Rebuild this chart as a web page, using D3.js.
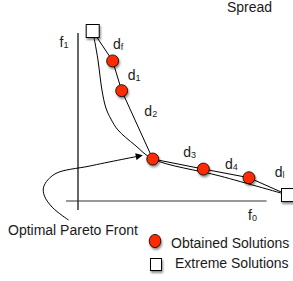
<!DOCTYPE html>
<html>
<head>
<meta charset="utf-8">
<script src="https://cdn.jsdelivr.net/npm/d3@7"></script>
<style>
  body { margin: 0; background: #fff; }
  text { font-family: "Liberation Sans", Arial, sans-serif; fill: #1a1a1a; }
</style>
</head>
<body>
<script>
var svgWidth = 293;
var svgHeight = 281;

// objective values, normalised: f0 across, f1 up
var extremeF0 = [0.07, 1.0];
var extremeF1 = [1.0, 0.035];

var obtainedF0 = [0.165, 0.208, 0.356, 0.597, 0.814];
var obtainedF1 = [0.824, 0.649, 0.247, 0.188, 0.137];

// true (optimal) pareto front
var frontF0 = [0.07, 0.081, 0.095, 0.114, 0.133, 0.157, 0.19, 0.271, 0.357, 0.676, 1.0];
var frontF1 = [1.0, 0.93, 0.83, 0.653, 0.547, 0.482, 0.418, 0.329, 0.247, 0.147, 0.035];

// distance labels and where they sit
var distLabels = ["f", "1", "2", "3", "4", "l"];
var distF0 = [0.167, 0.237, 0.316, 0.501, 0.7, 0.937];
var distF1 = [0.894, 0.712, 0.5, 0.26, 0.188, 0.141];

// the arrow pointing at the front
var arrowF0 = [-0.045, -0.12, -0.16, -0.163, -0.11, 0.057, 0.305];
var arrowF1 = [-0.112, -0.04, 0.03, 0.085, 0.159, 0.206, 0.268];

var svg = d3.select("body")
  .append("svg")
  .attr("width", svgWidth)
  .attr("height", svgHeight);

var defs = svg.append("defs");
var shadow = defs.append("filter")
  .attr("id", "shadow")
  .attr("x", "-50%").attr("y", "-50%")
  .attr("width", "200%").attr("height", "200%");
shadow.append("feDropShadow")
  .attr("dx", 1).attr("dy", 2)
  .attr("stdDeviation", 1.3)
  .attr("flood-color", "#000")
  .attr("flood-opacity", 0.45);

defs.append("marker")
  .attr("id", "head")
  .attr("viewBox", "0 0 10 10")
  .attr("refX", 9).attr("refY", 5)
  .attr("markerWidth", 9).attr("markerHeight", 7)
  .attr("markerUnits", "userSpaceOnUse")
  .attr("orient", "auto")
  .append("path")
  .attr("d", "M0,0L10,5L0,10Z")
  .attr("fill", "#000");

var x = d3.scaleLinear().domain([0, 1]).range([78, 288]);
var y = d3.scaleLinear().domain([0, 1]).range([201, 31]);

// axes (plain lines, no ticks)
svg.append("line")
  .attr("x1", x(0)).attr("x2", x(0))
  .attr("y1", y(1) + 2).attr("y2", y(-0.053))
  .attr("stroke", "#000").attr("stroke-width", 1.2);
svg.append("line")
  .attr("x1", x(-0.057)).attr("x2", x(0.898))
  .attr("y1", y(0)).attr("y2", y(0))
  .attr("stroke", "#333").attr("stroke-width", 1.2);

svg.append("text").attr("x", x(-0.088)).attr("y", y(0.905)).style("font-size", "14px").text("f")
  .append("tspan").attr("dy", 1).style("font-size", "9px").text("1");
svg.append("text").attr("x", x(0.81)).attr("y", y(-0.112)).style("font-size", "14px").text("f")
  .append("tspan").attr("dy", 1).style("font-size", "9px").text("0");

var lineGen = d3.line()
  .x(d => x(d[0]))
  .y(d => y(d[1]));

svg.append("path")
  .attr("d", lineGen.curve(d3.curveCatmullRom)(d3.zip(frontF0, frontF1)))
  .attr("fill", "none").attr("stroke", "#000").attr("stroke-width", 1);

var chain = [[extremeF0[0], extremeF1[0]]]
  .concat(d3.zip(obtainedF0, obtainedF1))
  .concat([[extremeF0[1], extremeF1[1]]]);
svg.append("path")
  .attr("d", d3.line().x(d => x(d[0])).y(d => y(d[1]))(chain))
  .attr("fill", "none").attr("stroke", "#000").attr("stroke-width", 1);

svg.append("path")
  .attr("d", d3.line().x(d => x(d[0])).y(d => y(d[1])).curve(d3.curveCatmullRom)(d3.zip(arrowF0, arrowF1)))
  .attr("fill", "none").attr("stroke", "#000").attr("stroke-width", 1)
  .attr("marker-end", "url(#head)");

svg.selectAll("rect.extreme")
  .data(d3.zip(extremeF0, extremeF1))
  .enter()
  .append("rect")
  .attr("class", "extreme")
  .attr("x", d => x(d[0]) - 6.5)
  .attr("y", d => y(d[1]) - 6.5)
  .attr("width", 13).attr("height", 13)
  .attr("fill", "#fff").attr("stroke", "#000").attr("stroke-width", 1)
  .attr("filter", "url(#shadow)");

svg.selectAll("circle.obtained")
  .data(d3.zip(obtainedF0, obtainedF1))
  .enter()
  .append("circle")
  .attr("class", "obtained")
  .attr("cx", d => x(d[0]))
  .attr("cy", d => y(d[1]))
  .attr("r", 6)
  .attr("fill", "#ff2a00").attr("stroke", "#000").attr("stroke-width", 0.8)
  .attr("filter", "url(#shadow)");

var dl = svg.selectAll("text.dist")
  .data(d3.range(distLabels.length))
  .enter()
  .append("text")
  .attr("class", "dist")
  .attr("x", i => x(distF0[i]))
  .attr("y", i => y(distF1[i]))
  .style("font-size", "14px")
  .text("d");
dl.append("tspan").attr("dy", 1).style("font-size", "9px").text(i => distLabels[i]);

svg.append("text").attr("x", 227).attr("y", 12).style("font-size", "14px").text("Spread");
svg.append("text").attr("x", 8).attr("y", 235).style("font-size", "14px").text("Optimal Pareto Front");

// legend
svg.append("ellipse")
  .attr("cx", 155).attr("cy", 241).attr("rx", 5.8).attr("ry", 6.6)
  .attr("fill", "#ff2a00").attr("stroke", "#000").attr("stroke-width", 0.8)
  .attr("filter", "url(#shadow)");
svg.append("text").attr("x", 171).attr("y", 248).style("font-size", "14px").text("Obtained Solutions");
svg.append("rect")
  .attr("x", 150.5).attr("y", 258.5).attr("width", 11).attr("height", 12)
  .attr("fill", "#fff").attr("stroke", "#000").attr("stroke-width", 1)
  .attr("filter", "url(#shadow)");
svg.append("text").attr("x", 175).attr("y", 268).style("font-size", "14px").text("Extreme Solutions");
</script>
</body>
</html>
